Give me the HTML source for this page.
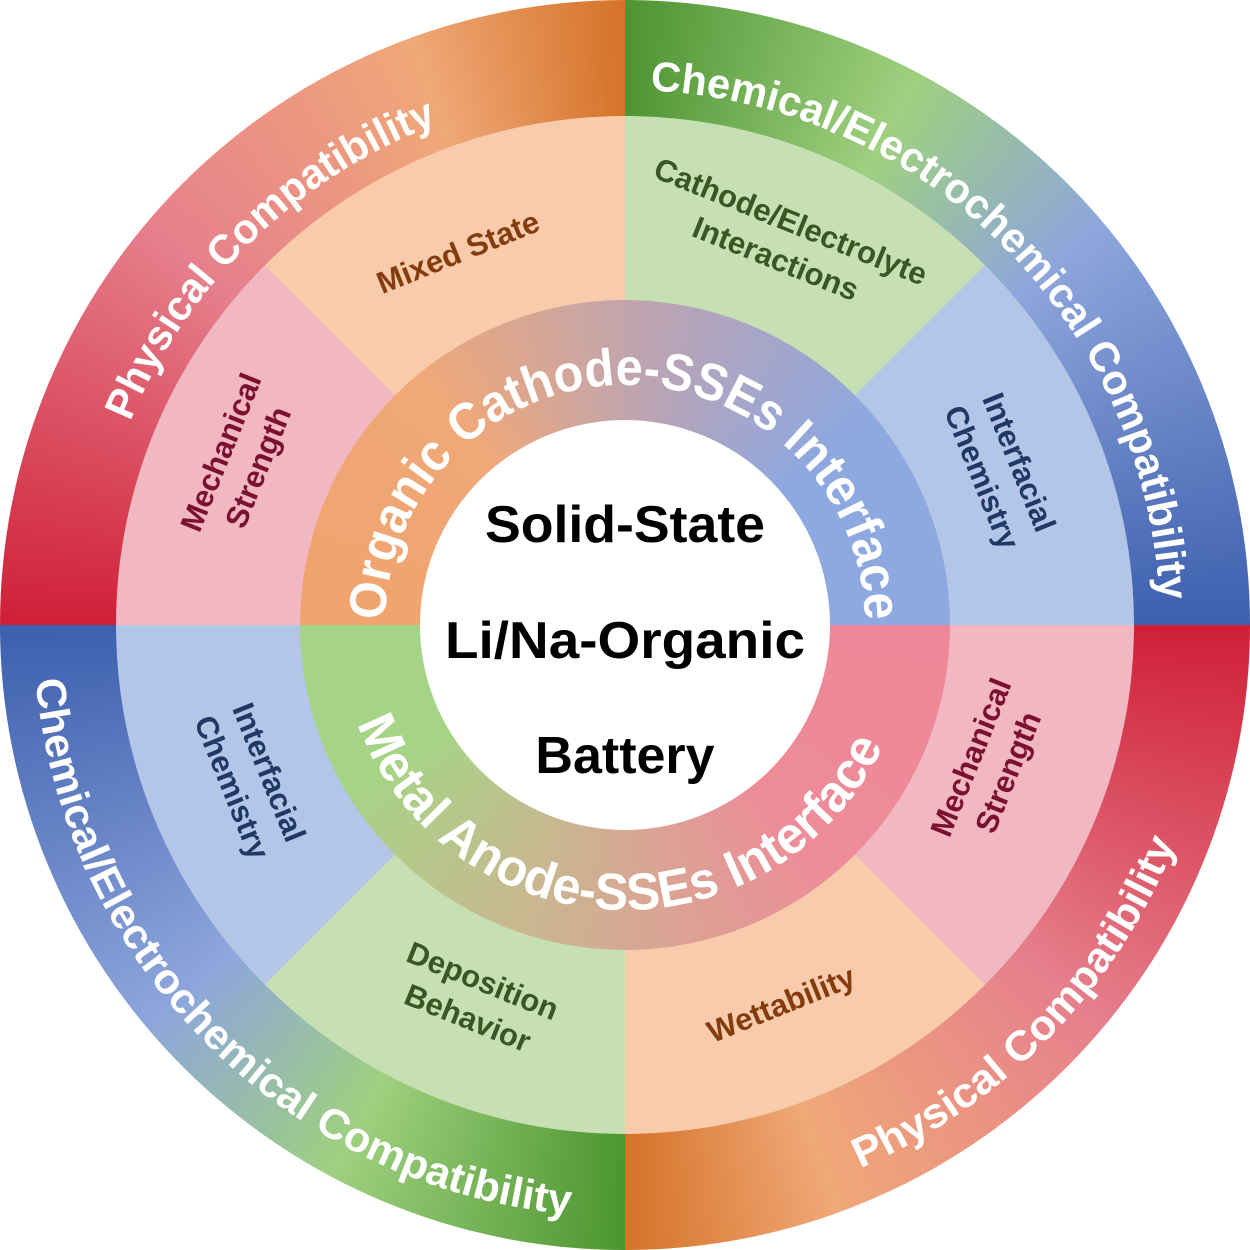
<!DOCTYPE html>
<html><head><meta charset="utf-8"><style>
html,body{margin:0;padding:0;background:#fff}
.wrap{position:relative;width:1250px;height:1250px;overflow:hidden}
.c{position:absolute;border-radius:50%}
svg{position:absolute;left:0;top:0}
</style></head><body><div class="wrap">
<div class="c" style="left:0;top:0;width:1250px;height:1250px;background:conic-gradient(#4f9433 0deg,#9fd07f 28deg,#8ea6dc 50deg,#3d5fae 90deg,#d01f38 90deg,#e6808c 130deg,#f0a878 160deg,#d57328 180deg,#4c962f 180deg,#9fd07f 208deg,#8ea6dc 230deg,#3d5fae 270deg,#d01f38 270deg,#e6808c 310deg,#f0a878 340deg,#d57328 360deg)"></div>
<div class="c" style="left:116px;top:116px;width:1018px;height:1018px;background:conic-gradient(#c6e0b4 0deg 45deg,#b4c6e7 45deg 90deg,#f2b8c2 90deg 135deg,#f8cbad 135deg 180deg,#c6e0b4 180deg 225deg,#b4c6e7 225deg 270deg,#f2b8c2 270deg 315deg,#f8cbad 315deg 360deg)"></div>
<div class="c" style="left:300px;top:300px;width:650px;height:650px;background:conic-gradient(from -90deg,#f0a46e 0deg,#f0a878 50deg,#b7a4b8 100deg,#8ea8e0 140deg,#8ea8e0 180deg,#ee8898 180deg,#ee8c98 230deg,#c8b890 290deg,#a6d486 330deg,#a6d486 360deg)"></div>
<div class="c" style="left:420px;top:420px;width:410px;height:410px;background:#fff"></div>
<svg width="1250" height="1250" viewBox="0 0 1250 1250" font-family="Liberation Sans, sans-serif" font-weight="bold">
<defs>
<path id="otl" d="M90,625 A535,535 0 0 1 625,90"/>
<path id="otr" d="M625,90 A535,535 0 0 1 1160,625"/>
<path id="obr" d="M625,1217 A592,592 0 0 0 1217,625"/>
<path id="obl" d="M33,625 A592,592 0 0 0 625,1217"/>
<path id="itop" d="M417.2,745 A240,240 0 1 1 832.8,745"/>
<path id="ibot" d="M378.2,482.5 A285,285 0 1 0 871.8,482.5"/>
</defs>
<g fill="#fff" font-size="42">
<text text-anchor="middle"><textPath href="#otl" startOffset="51%" textLength="440" lengthAdjust="spacingAndGlyphs">Physical Compatibility</textPath></text>
<text text-anchor="middle"><textPath href="#otr" startOffset="50%" textLength="790" lengthAdjust="spacingAndGlyphs">Chemical/Electrochemical Compatibility</textPath></text>
<text text-anchor="middle"><textPath href="#obr" startOffset="51%" textLength="465" lengthAdjust="spacingAndGlyphs">Physical Compatibility</textPath></text>
<text text-anchor="middle"><textPath href="#obl" startOffset="50%" textLength="820" lengthAdjust="spacingAndGlyphs">Chemical/Electrochemical Compatibility</textPath></text>
</g>
<g fill="#fff" font-size="52">
<text text-anchor="middle"><textPath href="#itop" startOffset="50%" textLength="745" lengthAdjust="spacingAndGlyphs">Organic Cathode-SSEs Interface</textPath></text>
<text text-anchor="middle"><textPath href="#ibot" startOffset="49%" textLength="670" lengthAdjust="spacingAndGlyphs">Metal Anode-SSEs Interface</textPath></text>
</g>
<g font-size="31" text-anchor="middle">
<text fill="#843c0c" transform="translate(462,262) rotate(-22)">Mixed State</text>
<text fill="#385723" transform="translate(780,248) rotate(22)"><tspan x="0" y="-18">Cathode/Electrolyte</tspan><tspan x="0" y="22">Interactions</tspan></text>
<text fill="#1f3864" transform="translate(1000,470) rotate(68)"><tspan x="0" y="-10">Interfacial</tspan><tspan x="0" y="30">Chemistry</tspan></text>
<text fill="#7b1030" transform="translate(990,765) rotate(-68)"><tspan x="0" y="-10">Mechanical</tspan><tspan x="0" y="30">Strength</tspan></text>
<text fill="#843c0c" transform="translate(785,1014) rotate(-22)">Wettability</text>
<text fill="#385723" transform="translate(475,1000) rotate(22)"><tspan x="0" y="-10">Deposition</tspan><tspan x="0" y="30">Behavior</tspan></text>
<text fill="#1f3864" transform="translate(250,780) rotate(68)"><tspan x="0" y="-10">Interfacial</tspan><tspan x="0" y="30">Chemistry</tspan></text>
<text fill="#7b1030" transform="translate(240,460) rotate(-68)"><tspan x="0" y="-10">Mechanical</tspan><tspan x="0" y="30">Strength</tspan></text>
</g>
<g font-size="52" fill="#000" text-anchor="middle">
<text x="625" y="542" textLength="280" lengthAdjust="spacingAndGlyphs">Solid-State</text>
<text x="625" y="658" textLength="360" lengthAdjust="spacingAndGlyphs">Li/Na-Organic</text>
<text x="625" y="773">Battery</text>
</g>
</svg>
</div></body></html>
